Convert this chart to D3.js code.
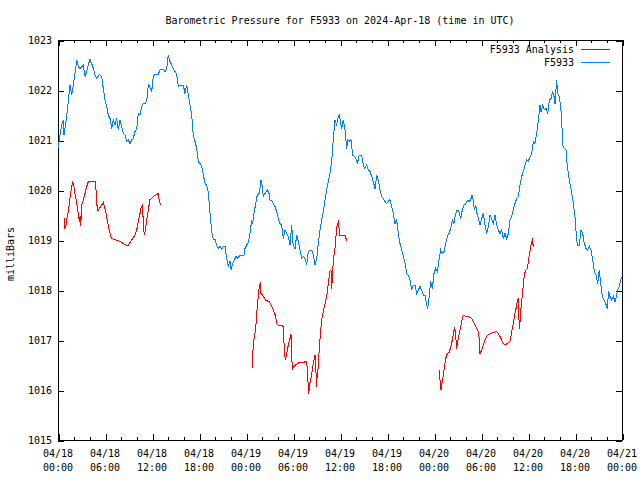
<!DOCTYPE html>
<html>
<head>
<meta charset="utf-8">
<script src="https://cdn.jsdelivr.net/npm/d3@7"></script>
<style>
  body { margin: 0; background: #fff; }
  svg { display: block; }
  text { font-family: "DejaVu Sans Mono", monospace; font-size: 10px; fill: #000; }
</style>
</head>
<body>
<div id="chart"></div>
<script>
// hours since 2024-04-18 00:00 UTC, pressure in mb
const station = [
  [0.00,1020.83],[0.26,1021.10],[0.47,1021.30],[0.68,1021.40],[0.77,1021.10],[1.11,1021.47],[1.31,1021.77],[1.53,1022.10],
  [1.75,1021.90],[1.95,1022.10],[2.17,1022.33],[2.39,1022.60],[2.59,1022.47],[2.81,1022.43],[3.23,1022.50],[3.45,1022.27],
  [3.66,1022.37],[3.87,1022.50],[4.09,1022.62],[4.30,1022.53],[4.51,1022.43],[4.72,1022.30],[4.94,1022.23],[5.27,1022.31],
  [5.58,1022.27],[5.78,1022.03],[6.00,1021.80],[6.22,1021.67],[6.42,1021.50],[6.64,1021.43],[6.86,1021.23],[7.06,1021.40],
  [7.28,1021.30],[7.49,1021.43],[7.70,1021.20],[7.91,1021.40],[8.13,1021.27],[8.34,1021.13],[8.55,1021.10],[8.77,1020.97],
  [8.97,1021.00],[9.19,1020.93],[9.41,1021.00],[9.61,1021.03],[9.83,1021.17],[10.05,1021.23],[10.25,1021.53],[10.47,1021.50],
  [10.69,1021.67],[10.89,1021.73],[11.11,1021.73],[11.32,1021.77],[11.53,1022.10],[11.74,1022.07],[11.96,1021.97],[12.17,1022.27],
  [12.38,1022.31],[12.60,1022.31],[12.80,1022.31],[13.02,1022.40],[13.24,1022.42],[13.44,1022.42],[13.66,1022.37],[13.88,1022.43],
  [14.08,1022.70],[14.30,1022.57],[14.51,1022.50],[14.72,1022.43],[14.94,1022.37],[15.15,1022.31],[15.36,1022.07],[15.57,1022.10],
  [15.79,1022.10],[16.00,1022.10],[16.21,1021.93],[16.43,1022.10],[16.63,1021.90],[16.85,1021.70],[17.07,1021.50],[17.27,1021.10],
  [17.49,1020.97],[17.71,1020.83],[17.91,1020.57],[18.13,1020.53],[18.34,1020.47],[18.55,1020.30],[18.77,1020.13],[18.97,1020.10],
  [19.19,1019.95],[19.40,1019.55],[19.62,1019.17],[19.83,1019.01],[20.04,1019.01],[20.26,1018.90],[20.46,1018.83],[20.68,1018.88],
  [20.90,1018.81],[21.10,1018.87],[21.32,1018.87],[21.53,1018.63],[21.74,1018.47],[21.96,1018.57],[22.09,1018.41],[22.30,1018.53],
  [22.51,1018.60],[22.72,1018.67],[22.89,1018.63],[23.15,1018.68],[23.45,1018.69],[23.74,1018.70],[23.87,1018.83],[24.09,1018.90],
  [24.30,1018.95],[24.51,1019.13],[24.73,1019.40],[24.86,1019.33],[25.02,1019.53],[25.24,1019.73],[25.44,1019.90],[25.70,1019.93],
  [25.91,1020.20],[26.08,1020.07],[26.21,1019.87],[26.43,1019.93],[26.72,1020.00],[26.94,1019.93],[27.06,1019.80],[27.28,1019.80],
  [27.49,1019.73],[27.70,1019.67],[27.92,1019.57],[28.12,1019.43],[28.34,1019.33],[28.56,1019.30],[28.76,1019.03],[28.98,1019.20],
  [29.20,1019.13],[29.40,1019.07],[29.62,1018.90],[29.83,1019.30],[30.04,1018.87],[30.26,1018.83],[30.47,1019.10],[30.68,1018.97],
  [30.89,1018.80],[31.11,1018.63],[31.32,1018.67],[31.53,1018.63],[31.75,1018.50],[31.95,1018.77],[32.17,1018.80],[32.39,1018.80],
  [32.59,1018.70],[32.81,1018.50],[33.03,1018.63],[33.23,1018.93],[33.45,1019.20],[33.66,1019.40],[33.87,1019.57],[34.09,1019.80],
  [34.30,1020.00],[34.51,1020.17],[34.72,1020.33],[34.94,1020.57],[35.07,1020.87],[35.23,1021.17],[35.36,1021.40],[35.58,1021.30],
  [35.78,1021.47],[35.91,1021.50],[36.09,1021.33],[36.22,1021.23],[36.42,1021.40],[36.64,1021.20],[36.86,1020.83],[36.98,1021.00],
  [37.19,1020.97],[37.40,1021.01],[37.62,1020.70],[37.83,1020.67],[38.04,1020.63],[38.21,1020.53],[38.46,1020.70],[38.77,1020.70],
  [38.90,1020.57],[39.10,1020.43],[39.41,1020.50],[39.61,1020.40],[39.83,1020.37],[40.05,1020.27],[40.25,1020.17],[40.47,1020.03],
  [40.69,1020.30],[40.89,1020.20],[41.11,1020.00],[41.32,1019.87],[41.53,1019.83],[41.74,1019.77],[41.96,1019.73],[42.17,1019.77],
  [42.38,1019.81],[42.60,1019.67],[42.81,1019.53],[43.02,1019.33],[43.24,1019.40],[43.44,1019.13],[43.66,1018.93],[43.88,1018.80],
  [44.08,1018.67],[44.30,1018.53],[44.52,1018.33],[44.72,1018.30],[44.94,1018.20],[45.15,1018.00],[45.36,1018.10],[45.57,1018.10],
  [45.79,1017.93],[46.00,1018.00],[46.21,1018.07],[46.43,1018.00],[46.63,1017.90],[46.85,1017.90],[47.07,1017.70],[47.19,1017.63],
  [47.36,1017.83],[47.58,1018.17],[47.79,1018.03],[48.00,1018.33],[48.21,1018.43],[48.42,1018.37],[48.64,1018.60],[48.86,1018.80],
  [49.06,1018.73],[49.28,1018.77],[49.50,1018.93],[49.70,1019.07],[49.92,1019.13],[50.13,1019.23],[50.34,1019.40],[50.55,1019.33],
  [50.77,1019.53],[50.97,1019.60],[51.19,1019.57],[51.41,1019.43],[51.61,1019.60],[51.83,1019.70],[52.05,1019.72],[52.25,1019.80],
  [52.47,1019.77],[52.69,1019.81],[52.85,1019.90],[53.02,1019.80],[53.15,1019.60],[53.32,1019.70],[53.49,1019.53],[53.66,1019.43],
  [53.87,1019.30],[54.09,1019.43],[54.30,1019.53],[54.51,1019.30],[54.73,1019.13],[54.94,1019.27],[55.15,1019.50],[55.36,1019.43],
  [55.57,1019.33],[55.79,1019.50],[56.00,1019.30],[56.21,1019.20],[56.43,1019.13],[56.64,1019.20],[56.85,1019.03],[57.07,1019.13],
  [57.28,1019.03],[57.49,1019.13],[57.70,1019.40],[57.92,1019.47],[58.13,1019.60],[58.34,1019.73],[58.56,1019.83],[58.76,1019.87],
  [58.98,1020.10],[59.20,1020.27],[59.40,1020.37],[59.62,1020.50],[59.83,1020.60],[60.04,1020.57],[60.26,1020.67],[60.47,1020.73],
  [60.68,1020.97],[60.89,1020.93],[61.11,1021.13],[61.32,1021.40],[61.53,1021.70],[61.66,1021.57],[61.88,1021.70],[62.08,1021.60],
  [62.30,1021.63],[62.52,1021.53],[62.72,1021.80],[62.94,1021.83],[63.15,1021.97],[63.32,1021.87],[63.45,1021.73],[63.57,1022.00],
  [63.66,1022.20],[63.79,1021.93],[63.99,1021.87],[64.17,1021.67],[64.30,1021.40],[64.43,1020.90],[64.64,1020.83],[64.85,1020.80],
  [65.02,1020.47],[65.20,1020.27],[65.36,1020.13],[65.58,1019.93],[65.79,1019.73],[66.00,1019.47],[66.13,1019.17],[66.30,1018.90],
  [66.55,1018.90],[66.77,1019.20],[66.98,1019.13],[67.19,1018.93],[67.40,1018.83],[67.62,1018.80],[67.83,1018.88],[68.04,1018.80],
  [68.26,1018.60],[68.47,1018.37],[68.68,1018.30],[68.90,1018.13],[69.10,1018.40],[69.28,1018.13],[69.48,1017.87],[69.70,1017.80],
  [69.92,1017.73],[70.12,1017.63],[70.30,1017.97],[70.47,1017.87],[70.69,1017.80],[70.90,1017.87],[71.11,1017.77],[71.32,1017.90],
  [71.45,1018.00],[71.66,1018.07],[71.84,1018.20],[71.97,1018.25]
];

const analysisDay1 = [
  [0.80,1019.43],[0.89,1019.23],[1.02,1019.30],[1.19,1019.47],[1.31,1019.57],[1.44,1019.73],[1.62,1019.93],[1.75,1020.07],
  [1.88,1020.15],[2.00,1020.10],[2.17,1019.93],[2.39,1019.73],[2.59,1019.53],[2.72,1019.37],[2.81,1019.47],[2.90,1019.28],
  [3.03,1019.70],[3.23,1019.80],[3.45,1019.93],[3.66,1020.07],[3.87,1020.17],[4.09,1020.18],[4.72,1020.18],[4.85,1020.00],
  [5.02,1019.60],[5.14,1019.60],[5.36,1019.65],[5.58,1019.70],[5.78,1019.75],[5.91,1019.67],[6.09,1019.57],[6.29,1019.40],
  [6.51,1019.23],[6.73,1019.08],[6.86,1019.03],[7.28,1019.01],[7.91,1018.97],[8.55,1018.91],[8.94,1018.88],[9.19,1018.95],
  [9.54,1019.03],[9.83,1019.10],[10.05,1019.20],[10.25,1019.37],[10.47,1019.53],[10.63,1019.67],[10.81,1019.70],[10.89,1019.27],
  [11.02,1019.10],[11.15,1019.20],[11.32,1019.40],[11.53,1019.60],[11.74,1019.81],[11.96,1019.83],[12.17,1019.87],[12.38,1019.89],
  [12.60,1019.91],[12.80,1019.93],[12.93,1019.77],[13.11,1019.70]
];

const analysisDay2 = [
  [24.80,1016.45],[24.86,1016.67],[24.93,1016.93],[25.15,1017.13],[25.28,1017.33],[25.44,1017.67],[25.57,1017.87],[25.70,1018.07],
  [25.83,1018.15],[25.91,1017.93],[26.08,1017.90],[26.30,1017.85],[26.55,1017.79],[26.94,1017.77],[27.15,1017.72],[27.36,1017.65],
  [27.57,1017.57],[27.79,1017.47],[27.92,1017.33],[28.12,1017.30],[28.56,1017.29],[28.76,1017.27],[28.89,1016.80],[29.02,1016.60],
  [29.20,1016.73],[29.40,1016.90],[29.62,1017.03],[29.74,1017.12],[29.91,1016.41],[30.13,1016.47],[30.47,1016.52],[30.80,1016.55],
  [31.32,1016.55],[31.75,1016.58],[31.88,1016.27],[32.00,1015.93],[32.17,1016.13],[32.39,1016.33],[32.59,1016.53],[32.81,1016.70],
  [32.94,1016.33],[33.03,1016.07],[33.10,1016.40],[33.23,1016.43],[33.36,1016.87],[33.49,1017.10],[33.61,1017.33],[33.74,1017.47],
  [33.87,1017.57],[34.09,1017.73],[34.30,1017.87],[34.51,1018.13],[34.72,1018.38],[34.85,1018.40],[34.94,1018.03],[35.15,1018.60],
  [35.36,1018.83],[35.49,1019.07],[35.58,1019.27],[35.74,1019.33],[35.83,1019.40],[35.91,1019.10],[36.22,1019.10],[36.64,1019.10],
  [36.77,1019.03],[36.93,1018.97]
];

const analysisDay3 = [
  [48.68,1016.40],[48.77,1016.20],[48.89,1016.00],[49.06,1016.17],[49.28,1016.40],[49.49,1016.63],[49.70,1016.73],[49.92,1016.75],
  [50.17,1016.87],[50.34,1017.00],[50.47,1017.13],[50.64,1017.25],[50.77,1017.07],[50.90,1016.83],[51.03,1016.97],[51.19,1017.10],
  [51.36,1017.23],[51.54,1017.37],[51.74,1017.50],[51.96,1017.48],[52.38,1017.47],[52.81,1017.43],[53.02,1017.37],[53.23,1017.30],
  [53.45,1017.23],[53.66,1017.17],[53.79,1017.00],[53.87,1016.73],[54.09,1016.80],[54.30,1016.90],[54.51,1017.00],[54.73,1017.08],
  [55.15,1017.12],[55.57,1017.15],[56.00,1017.17],[56.21,1017.13],[56.43,1017.07],[56.64,1017.00],[56.85,1016.93],[57.07,1016.90],
  [57.28,1016.92],[57.49,1016.95],[57.70,1016.97],[57.83,1017.07],[58.00,1017.23],[58.13,1017.33],[58.30,1017.50],[58.47,1017.63],
  [58.64,1017.77],[58.76,1017.83],[58.85,1017.40],[58.94,1017.23],[59.02,1017.50],[59.15,1017.70],[59.28,1017.90],[59.40,1018.10],
  [59.53,1018.30],[59.71,1018.40],[59.91,1018.43],[60.04,1018.57],[60.17,1018.70],[60.30,1018.83],[60.47,1018.97],[60.55,1019.00],
  [60.68,1018.87],[60.81,1018.87]
];

const seriesNames = ['F5933 Analysis', 'F5933']
const seriesColors = ['#ff0000', '#0080ff']
const pressureTicks = [1015, 1016, 1017, 1018, 1019, 1020, 1021, 1022, 1023]

const start = Date.UTC(2024, 3, 18)
const hoursToDate = h => new Date(start + h * 3600e3)

const width = 640, height = 480
const plotLeft = 58, plotRight = 622, plotTop = 40, plotBottom = 440

let svg = d3.select('#chart')
    .append('svg')
    .attr('width', width)
    .attr('height', height)

let x = d3.scaleUtc()
    .domain([hoursToDate(0), hoursToDate(72)])
    .range([plotLeft, plotRight])

let y = d3.scaleLinear()
    .domain([1015, 1023])
    .range([plotBottom, plotTop])

// title
svg.append('text')
    .attr('x', 340)
    .attr('y', 24)
    .attr('text-anchor', 'middle')
    .text('Barometric Pressure for F5933 on 2024-Apr-18 (time in UTC)')

// y label
svg.append('text')
    .attr('transform', 'translate(14,254) rotate(-90)')
    .attr('text-anchor', 'middle')
    .text('milliBars')

// ticks, all pointing inward
let addAxis = (axis, tx, ty) =>
{
    let g = svg.append('g')
        .attr('transform', 'translate(' + tx + ',' + ty + ')')
        .call(axis)
    g.select('.domain').remove()
    g.selectAll('line').attr('stroke', '#000').attr('shape-rendering', 'crispEdges')
    return g
}

let majorHours = d3.utcHour.every(6)
let minorHours = d3.utcHour.every(2)

addAxis(d3.axisBottom(x).ticks(minorHours).tickSize(-3).tickFormat(''), 0.5, plotBottom)
addAxis(d3.axisTop(x).ticks(minorHours).tickSize(-3).tickFormat(''), 0.5, plotTop)
addAxis(d3.axisBottom(x).ticks(majorHours).tickSize(-6).tickFormat(''), 0.5, plotBottom)
addAxis(d3.axisTop(x).ticks(majorHours).tickSize(-6).tickFormat(''), 0.5, plotTop)

let yLeft = addAxis(d3.axisLeft(y).tickValues(pressureTicks).tickSize(-6).tickFormat(d3.format('d')), plotLeft, 0.5)
yLeft.selectAll('text')
    .attr('font-family', '"DejaVu Sans Mono", monospace')
    .attr('font-size', 10)
    .attr('fill', '#000')
    .attr('x', -6)
addAxis(d3.axisRight(y).tickValues(pressureTicks).tickSize(-6).tickFormat(''), plotRight, 0.5)

// two line time labels
let fmtDay = d3.utcFormat('%m/%d')
let fmtTime = d3.utcFormat('%H:%M')
let labels = svg.append('g')
    .selectAll('text')
    .data(x.ticks(majorHours))
    .enter()
    .append('text')
    .attr('x', d => x(d))
    .attr('text-anchor', 'middle')
labels.append('tspan').attr('x', d => x(d)).attr('y', 457).text(d => fmtDay(d))
labels.append('tspan').attr('x', d => x(d)).attr('y', 471).text(d => fmtTime(d))

// border
svg.append('rect')
    .attr('x', plotLeft + 0.5)
    .attr('y', plotTop + 0.5)
    .attr('width', plotRight - plotLeft)
    .attr('height', plotBottom - plotTop)
    .attr('fill', 'none')
    .attr('stroke', '#000')
    .attr('shape-rendering', 'crispEdges')

let line = d3.line()
    .x(d => x(hoursToDate(d[0])))
    .y(d => y(d[1]))

// gnuplot png output is not antialiased
svg.append('g')
    .selectAll('path')
    .data([analysisDay1, analysisDay2, analysisDay3])
    .enter()
    .append('path')
    .attr('d', line)
    .attr('fill', 'none')
    .attr('stroke', seriesColors[0])
    .attr('stroke-width', 1)
    .attr('shape-rendering', 'crispEdges')

svg.append('path')
    .datum(station)
    .attr('d', line)
    .attr('fill', 'none')
    .attr('stroke', seriesColors[1])
    .attr('stroke-width', 1)
    .attr('shape-rendering', 'crispEdges')

// key
let key = svg.append('g')
    .selectAll('g')
    .data(seriesNames)
    .enter()
    .append('g')
    .attr('transform', (d, i) => 'translate(0,' + (49.5 + i * 13) + ')')

key.append('text')
    .attr('x', 574)
    .attr('y', 3.5)
    .attr('text-anchor', 'end')
    .text(d => d)

key.append('line')
    .attr('x1', 581)
    .attr('x2', 610)
    .attr('stroke', (d, i) => seriesColors[i])
    .attr('shape-rendering', 'crispEdges')
</script>
</body>
</html>
